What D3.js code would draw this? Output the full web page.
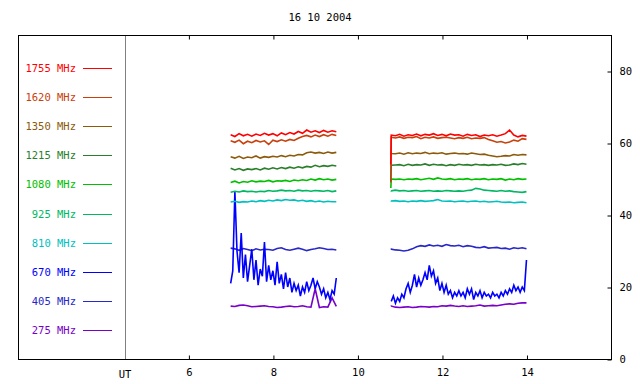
<!DOCTYPE html>
<html>
<head>
<meta charset="utf-8">
<script src="https://cdn.jsdelivr.net/npm/d3@7"></script>
<style>
  body { margin: 0; background: #fff; }
  text { font-family: "DejaVu Sans Mono", monospace; font-size: 10.5px; }
</style>
</head>
<body>
<svg id="chart" width="640" height="384"></svg>
<script>
// ---- data ----
var title = "16 10 2004"
var freqs = ["1755", "1620", "1350", "1215", "1080", "925", "810", "670", "405", "275"]
var colors = ["#ff0000", "#c8400c", "#8c5a0a", "#2a7f2a", "#00c000", "#00b864", "#00c0c0", "#0000ff", "#2828c8", "#7800c8"]
var xTicks = [6, 8, 10, 12, 14]
var yTicks = [0, 20, 40, 60, 80]

// sample times (UT hours) of the two observing windows
var timesA = [7.0,7.1,7.2,7.3,7.4,7.5,7.6,7.7,7.8,7.9,8.0,8.1,8.2,8.3,8.4,8.5,8.6,8.7,8.8,8.9,9.0,9.1,9.2,9.3,9.4,9.5]
var timesB = [10.79,10.8,10.9,11.0,11.1,11.2,11.3,11.4,11.5,11.6,11.7,11.8,11.9,12.0,12.1,12.2,12.3,12.4,12.5,12.6,12.7,12.8,12.9,13.0,13.1,13.2,13.3,13.4,13.5,13.6,13.7,13.8,13.9,14.0]
// 670 MHz is read at a finer step
var timesA670 = [7.00,7.05,7.10,7.15,7.20,7.25,7.30,7.35,7.40,7.45,7.50,7.55,7.60,7.65,7.70,7.75,7.80,7.85,7.90,7.95,
  8.00,8.05,8.10,8.15,8.20,8.25,8.30,8.35,8.40,8.45,8.50,8.55,8.60,8.65,8.70,8.75,8.80,8.85,8.90,8.95,
  9.00,9.05,9.10,9.15,9.20,9.25,9.30,9.35,9.40,9.45,9.50]
var timesB670 = [10.80,10.85,10.90,10.95,11.00,11.05,11.10,11.15,11.20,11.25,11.30,11.35,11.40,11.45,11.50,11.55,11.60,11.65,11.70,11.75,
  11.80,11.85,11.90,11.95,12.00,12.05,12.10,12.15,12.20,12.25,12.30,12.35,12.40,12.45,12.50,12.55,12.60,12.65,12.70,12.75,
  12.80,12.85,12.90,12.95,13.00,13.05,13.10,13.15,13.20,13.25,13.30,13.35,13.40,13.45,13.50,13.55,13.60,13.65,13.70,13.75,
  13.80,13.85,13.90,13.95,14.00]

// flux per frequency, window A and window B
var f1755a = [62.3,61.8,62.6,62.0,62.4,61.9,62.5,62.1,62.7,62.2,62.6,62.0,62.8,62.3,62.9,62.5,63.2,62.7,63.6,63.0,63.4,62.9,63.5,63.0,63.4,63.1]
var f1755b = [54.0,62.2,62.0,62.4,61.9,62.3,62.1,62.5,62.0,62.4,62.2,62.6,62.1,62.4,62.0,62.5,62.2,62.3,61.9,62.4,62.1,62.3,61.8,62.2,62.0,62.3,61.9,62.2,62.6,63.6,62.2,61.7,62.1,61.9]
var f1620a = [60.6,60.2,60.8,59.8,60.5,60.1,60.7,60.3,60.6,59.6,60.8,60.4,60.9,60.5,61.0,60.7,61.3,61.8,62.1,61.7,62.2,61.8,62.3,61.9,62.4,62.1]
var f1620b = [49.0,61.6,61.4,61.7,61.3,61.6,61.5,61.8,61.2,61.6,61.4,61.7,61.3,61.5,61.6,61.4,61.2,61.5,61.3,61.6,61.2,61.4,61.3,61.5,61.0,60.6,60.2,60.4,60.0,60.3,60.8,60.5,61.2,61.0]
var f1350a = [56.2,55.8,56.3,55.7,56.1,55.9,56.4,55.8,56.2,56.0,56.3,56.1,56.5,56.2,56.6,56.4,56.8,56.7,57.3,57.5,57.2,57.4,57.1,57.5,57.2,57.4]
var f1350b = [57.3,57.1,57.0,57.2,56.9,57.3,57.0,57.2,57.1,57.4,57.0,57.2,57.1,57.3,56.9,57.1,57.2,57.0,57.1,56.9,57.2,57.0,56.8,56.9,56.6,56.4,56.2,56.3,56.5,56.4,56.8,56.6,56.8,56.7]
var f1215a = [53.0,52.5,52.9,52.4,52.8,52.6,52.9,52.5,53.0,52.7,53.1,52.8,53.2,52.9,53.3,53.0,53.4,53.1,53.5,53.3,53.8,53.4,53.7,53.5,53.8,53.6]
var f1215b = [49.5,53.8,53.9,54.0,53.7,54.1,53.8,54.0,53.9,54.2,53.8,54.1,53.9,54.0,53.7,54.0,53.8,54.1,53.9,54.0,53.8,54.1,53.9,54.0,53.8,54.0,53.9,54.1,53.8,53.9,54.2,54.0,54.3,54.1]
var f1080a = [49.0,49.4,48.9,49.3,49.1,49.5,49.2,49.4,49.3,49.6,49.2,49.5,49.4,49.6,49.3,49.7,49.5,49.8,49.6,50.0,49.7,50.1,49.8,50.0,49.7,49.9]
var f1080b = [47.5,50.0,49.9,50.0,49.8,50.0,49.9,50.1,49.8,50.0,50.2,49.9,50.3,50.0,49.9,50.1,49.8,50.0,49.9,50.1,49.8,50.0,49.9,50.1,49.8,50.0,49.9,50.1,49.7,50.0,49.8,50.1,49.9,50.0]
var f925a = [46.3,46.6,46.4,46.7,46.5,46.6,46.4,46.6,46.5,46.8,46.6,46.7,46.9,46.7,46.8,46.6,46.9,46.7,46.8,46.6,46.8,46.7,46.6,46.8,46.5,46.7]
var f925b = [46.8,46.7,46.9,46.7,46.8,46.6,46.7,46.8,46.6,46.7,46.8,46.6,46.7,46.6,46.8,46.7,46.6,46.7,46.6,46.8,46.9,47.4,47.2,46.9,46.8,46.7,46.6,46.8,46.6,46.7,46.5,46.4,46.3,46.5]
var f810a = [43.6,43.8,43.5,43.7,43.6,43.9,43.7,44.0,43.8,44.1,43.9,44.2,44.0,44.3,44.1,44.2,43.9,44.1,43.8,44.0,43.7,43.9,43.6,43.8,43.7,43.7]
var f810b = [44.0,43.9,44.0,43.8,43.9,43.7,43.9,43.8,44.0,43.8,43.9,44.0,44.3,43.9,43.8,43.9,43.7,43.8,43.9,43.7,43.8,43.9,43.7,43.8,43.6,43.7,43.8,43.6,43.5,43.6,43.4,43.5,43.6,43.4]
var f670a = [21.0,24.5,46.5,30.0,24.0,35.0,22.5,29.0,21.5,26.0,30.5,22.0,27.5,20.5,25.0,23.0,32.5,21.5,26.0,22.0,
  24.5,20.5,27.0,21.0,23.5,19.5,24.0,20.0,22.5,18.5,21.0,19.0,20.5,17.5,20.0,18.5,21.5,19.0,20.5,22.5,
  19.5,21.5,20.0,18.0,19.5,17.0,18.5,16.5,19.0,18.0,22.5]
var f670b = [16.0,17.5,15.5,17.0,16.0,18.0,17.0,19.5,21.0,18.5,20.5,23.5,20.0,22.5,20.5,22.0,24.0,22.0,26.0,23.0,
  24.5,21.0,22.5,19.0,21.0,18.5,20.5,18.0,19.0,17.0,18.5,17.5,19.0,17.5,18.5,17.0,19.5,18.0,19.5,16.5,
  18.5,17.5,19.0,17.0,18.5,17.5,18.0,17.0,18.5,17.5,18.0,17.0,18.5,17.5,19.0,18.0,19.5,18.5,20.5,19.0,
  20.0,18.5,20.0,19.0,27.5]
var f405a = [30.8,30.6,30.2,30.7,30.4,30.1,30.6,30.3,30.5,30.4,30.2,30.7,30.9,30.4,30.2,30.5,30.8,30.5,30.1,30.4,30.6,30.9,30.7,30.4,30.5,30.3]
var f405b = [30.4,30.5,30.3,30.2,30.0,30.2,30.6,31.2,31.5,31.3,31.7,31.4,31.6,31.3,31.8,31.5,31.4,31.6,31.2,31.5,31.3,31.0,30.9,31.2,30.8,30.9,31.0,30.7,30.8,30.5,30.9,30.7,30.9,30.6]
var f275a = [14.7,14.6,14.9,15.0,14.8,14.5,14.6,14.7,14.8,14.6,14.5,14.3,14.4,14.6,14.7,14.5,14.6,14.8,14.5,14.4,19.5,14.3,14.5,14.4,17.0,14.6]
var f275b = [14.6,14.7,14.4,14.3,14.4,14.5,14.3,14.4,14.6,14.5,14.4,14.6,14.5,14.8,14.7,14.9,14.7,14.6,14.8,14.6,14.7,14.8,15.0,14.7,14.8,14.9,14.8,15.0,15.2,15.3,15.2,15.5,15.6,15.6]

var seriesA = [f1755a, f1620a, f1350a, f1215a, f1080a, f925a, f810a, f670a, f405a, f275a]
var seriesB = [f1755b, f1620b, f1350b, f1215b, f1080b, f925b, f810b, f670b, f405b, f275b]

// ---- layout ----
var svg = d3.select("#chart")
var frame = {left: 18, top: 35, right: 611, bottom: 359}
var plotLeft = 125

var xScale = d3.scaleLinear().domain([4.5, 16]).range([plotLeft, frame.right])
var yScale = d3.scaleLinear().domain([0, 90]).range([frame.bottom, frame.top])

// title
svg.append("text")
  .attr("x", 320).attr("y", 21)
  .attr("text-anchor", "middle")
  .text(title)

// frame
svg.append("rect")
  .attr("x", frame.left + 0.5).attr("y", frame.top + 0.5)
  .attr("width", frame.right - frame.left).attr("height", frame.bottom - frame.top)
  .attr("fill", "none").attr("stroke", "#000").attr("stroke-width", 1)

// divider between legend and plot
svg.append("line")
  .attr("x1", plotLeft + 0.5).attr("x2", plotLeft + 0.5)
  .attr("y1", frame.top + 1).attr("y2", frame.bottom)
  .attr("stroke", "#808080")

// bottom / top ticks (inward)
var xAxisB = d3.axisBottom(xScale).tickValues(xTicks).tickSizeInner(-4).tickSizeOuter(0).tickPadding(10).tickFormat(d3.format("d"))
var gxb = svg.append("g").attr("transform", "translate(0.5," + (frame.bottom + 0.5) + ")").call(xAxisB)
gxb.select(".domain").remove()
gxb.selectAll("text").attr("font-size", null).attr("font-family", null).attr("dy", "0.6em")

var xAxisT = d3.axisTop(xScale).tickValues(xTicks).tickSizeInner(-4).tickSizeOuter(0).tickFormat("")
var gxt = svg.append("g").attr("transform", "translate(0.5," + (frame.top + 0.5) + ")").call(xAxisT)
gxt.select(".domain").remove()

svg.append("text")
  .attr("x", plotLeft).attr("y", 378)
  .attr("text-anchor", "middle")
  .text("UT")

// right axis
var yAxis = d3.axisRight(yScale).tickValues(yTicks).tickSizeInner(-4).tickSizeOuter(0).tickPadding(8)
var gy = svg.append("g").attr("transform", "translate(" + (frame.right + 0.5) + ",0.5)").call(yAxis)
gy.select(".domain").remove()
gy.selectAll("text").attr("font-size", null).attr("font-family", null)

// legend
var legendY = d3.scalePoint().domain(freqs).range([68, 330])
var legend = svg.append("g")
freqs.forEach(function(f, i) {
  var y = legendY(f)
  legend.append("text")
    .attr("x", 76).attr("y", y + 4)
    .attr("text-anchor", "end")
    .attr("fill", colors[i])
    .text(f + " MHz")
  legend.append("line")
    .attr("x1", 83).attr("x2", 112)
    .attr("y1", Math.round(y) + 0.5).attr("y2", Math.round(y) + 0.5)
    .attr("stroke", colors[i])
})

// lines
var line = d3.line()
  .x(d => xScale(d[0]))
  .y(d => yScale(d[1]))

var plot = svg.append("g")
for (var i = freqs.length - 1; i >= 0; i--) {
  var tA = freqs[i] == "670" ? timesA670 : timesA
  var tB = freqs[i] == "670" ? timesB670 : timesB
  ;[[tA, seriesA[i]], [tB, seriesB[i]]].forEach(function(seg) {
    plot.append("path")
      .datum(seg[0].map((t, j) => [t, seg[1][j]]))
      .attr("d", line)
      .attr("fill", "none")
      .attr("stroke", colors[i])
      .attr("stroke-width", 1.6)
  })
}
</script>
</body>
</html>
